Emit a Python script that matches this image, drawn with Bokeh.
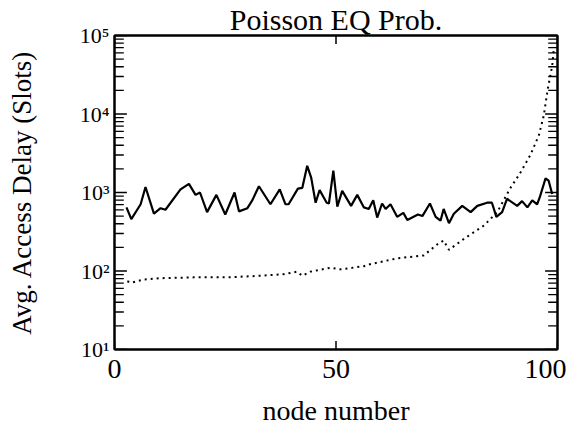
from bokeh.plotting import figure
from bokeh.models import LogAxis, LinearAxis, FixedTicker, CustomJSTickFormatter
from bokeh.embed import file_html
from bokeh.resources import INLINE

# ---- data ----
title_text = "Poisson EQ Prob."
x_label = "node number"
y_label = "Avg. Access Delay (Slots)"

x_ticks = [0, 50, 100]
y_ticks = [10, 100, 1000, 10000, 100000]
y_tick_labels = ["10\u00b9", "10\u00b2", "10\u00b3", "10\u2074", "10\u2075"]
minor_mult = [2, 3, 4, 5, 6, 7, 8, 9]

# solid curve (vertices of the traced line)
solid_node = [2.7, 3.8, 5.9, 7.0, 8.9, 10.4, 11.5, 14.9, 16.8, 18.3, 19.3, 20.9,
              23.0, 25.0, 27.1, 28.1, 30.0, 31.1, 32.6, 35.2, 37.3, 38.6, 39.3,
              41.4, 42.4, 43.5, 44.4, 45.4, 46.3, 47.9, 48.4, 49.4, 50.3, 51.4,
              53.4, 54.8, 56.3, 57.4, 58.4, 59.3, 60.4, 61.2, 62.3, 63.8, 65.2,
              66.1, 68.5, 69.5, 71.2, 72.5, 73.6, 74.3, 75.5, 76.6, 78.5, 80.4,
              81.9, 84.1, 85.2, 86.2, 87.5, 88.6, 90.9, 92.0, 93.2, 94.3, 95.4,
              96.0, 97.3, 98.0, 98.8]
solid_delay = [646, 457, 708, 1175, 537, 631, 603, 1096, 1288, 933, 1000, 562,
               933, 525, 1000, 575, 631, 794, 1202, 708, 1096, 708, 708,
               1122, 1148, 2188, 1549, 741, 1072, 741, 724, 1905, 661, 1047,
               676, 933, 646, 617, 794, 479, 724, 617, 708, 490, 550,
               447, 525, 501, 724, 490, 437, 617, 407, 537, 676, 562,
               676, 741, 741, 490, 562, 832, 676, 776, 646, 794, 708,
               871, 1514, 1413, 955]

# dotted curve
dotted_node = [2.9, 3.8, 6.6, 10.4, 17.9, 25.4, 33.0, 38.2, 41.2, 42.4, 44.2,
               48.8, 51.0, 56.3, 57.1, 63.8, 69.8, 72.9, 74.3, 75.5, 78.9,
               83.4, 86.4, 89.4, 91.6, 93.9, 95.8, 96.9, 97.8, 98.8, 99.2]
dotted_delay = [74, 71, 78, 81, 83, 83, 87, 91, 98, 87, 98,
                110, 105, 115, 120, 145, 158, 219, 245, 186, 257,
                380, 562, 1148, 1778, 3020, 5370, 9550, 20890, 40740, 70800]

FONT = "Liberation Serif"
x_lo, x_hi = x_ticks[0], x_ticks[-1]
y_lo, y_hi = y_ticks[0], y_ticks[-1]

p = figure(width=566, height=428, x_range=(x_lo, x_hi), y_range=(y_lo, y_hi),
           y_axis_type="log", output_backend="svg", toolbar_location=None,
           title=title_text, min_border_left=114, min_border_right=9,
           min_border_top=10, min_border_bottom=60)

p.title.text_font = FONT
p.title.text_font_size = "30px"
p.title.text_font_style = "normal"
p.title.align = "center"
p.title.text_color = "black"
p.title.standoff = 0

p.xgrid.visible = False
p.ygrid.visible = False
p.outline_line_color = "black"
p.outline_line_width = 2
p.background_fill_color = "white"
p.border_fill_color = "white"

empty_fmt = CustomJSTickFormatter(code="return '';")

def style_common(ax):
    ax.axis_line_color = "black"
    ax.axis_line_width = 2
    ax.major_tick_in = 0
    ax.major_tick_out = 0
    ax.minor_tick_in = 0
    ax.minor_tick_out = 0
    ax.major_label_text_font = FONT
    ax.major_label_text_color = "black"

xa = p.xaxis[0]
style_common(xa)
xa.ticker = FixedTicker(ticks=x_ticks)
xa.major_label_text_font_size = "28px"
xa.major_label_standoff = 10
xa.axis_label = x_label
xa.axis_label_text_font = FONT
xa.axis_label_text_font_size = "28px"
xa.axis_label_text_font_style = "normal"
xa.axis_label_text_color = "black"
xa.axis_label_standoff = 14

ya = p.yaxis[0]
style_common(ya)
ya.ticker = FixedTicker(ticks=y_ticks)
ya.major_label_text_font_size = "22px"
ya.major_label_standoff = 5
ya.major_label_overrides = {t: lab for t, lab in zip(y_ticks, y_tick_labels)}
ya.axis_label = y_label
ya.axis_label_text_font = FONT
ya.axis_label_text_font_size = "27px"
ya.axis_label_text_font_style = "normal"
ya.axis_label_text_color = "black"
ya.axis_label_standoff = 40

top_ax = LinearAxis(ticker=FixedTicker(ticks=x_ticks), formatter=empty_fmt)
style_common(top_ax)
p.add_layout(top_ax, "above")

right_ax = LogAxis(ticker=FixedTicker(ticks=y_ticks), formatter=empty_fmt)
style_common(right_ax)
p.add_layout(right_ax, "right")

# inward tick marks on all four sides, drawn as short segments
x_tick_len = 0.028 * (x_hi - x_lo)        # major y-axis tick length
x_tick_len_minor = 0.021 * (x_hi - x_lo)  # minor y-axis tick length
y_tick_fac = 1.28                          # x-axis tick length on the log scale
minor_y = [m * t for t in y_ticks[:-1] for m in minor_mult]
n_maj, n_min = len(y_ticks), len(minor_y)

p.segment(x0=[x_lo] * n_maj, y0=y_ticks, x1=[x_lo + x_tick_len] * n_maj, y1=y_ticks,
          line_color="black", line_width=1.6)
p.segment(x0=[x_hi] * n_maj, y0=y_ticks, x1=[x_hi - x_tick_len] * n_maj, y1=y_ticks,
          line_color="black", line_width=1.6)
p.segment(x0=[x_lo] * n_min, y0=minor_y, x1=[x_lo + x_tick_len_minor] * n_min, y1=minor_y,
          line_color="black", line_width=1.4)
p.segment(x0=[x_hi] * n_min, y0=minor_y, x1=[x_hi - x_tick_len_minor] * n_min, y1=minor_y,
          line_color="black", line_width=1.4)
p.segment(x0=x_ticks, y0=[y_lo] * len(x_ticks), x1=x_ticks, y1=[y_lo * y_tick_fac] * len(x_ticks),
          line_color="black", line_width=1.5)
p.segment(x0=x_ticks, y0=[y_hi] * len(x_ticks), x1=x_ticks, y1=[y_hi / y_tick_fac] * len(x_ticks),
          line_color="black", line_width=1.5)

p.line(solid_node, solid_delay, line_color="black", line_width=2.2)
p.line(dotted_node, dotted_delay, line_color="black", line_width=2,
       line_dash="2 4")

open("out.html", "w").write(file_html(p, INLINE))
